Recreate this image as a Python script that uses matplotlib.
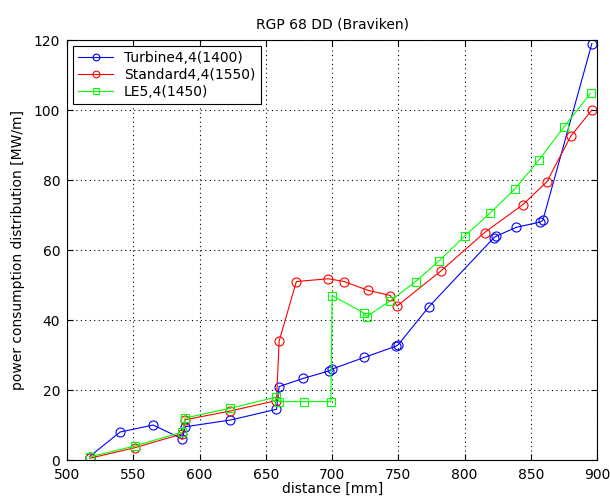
import numpy as np
import matplotlib.pyplot as plt

# data
turbine_x = [517, 540, 565, 587, 589, 623, 658, 660, 678, 698, 700, 724, 748, 750, 773, 822, 824, 839, 857, 859, 896]
turbine_y = [1, 8, 10, 6, 9.5, 11.4, 14.5, 21, 23.3, 25.5, 26, 29.3, 32.5, 33, 43.8, 63.5, 64, 66.5, 68, 68.5, 119]

standard_x = [517, 551, 587, 589, 623, 658, 660, 673, 697, 709, 727, 744, 749, 782, 815, 844, 862, 880, 896]
standard_y = [0.5, 3.5, 7.5, 11.5, 14, 17, 34, 51, 51.8, 51, 48.5, 47, 44, 54, 65, 73, 79.5, 92.5, 100]

le_x = [517, 551, 587, 589, 623, 658, 660, 679, 699, 700, 724, 726, 744, 763, 781, 800, 819, 838, 856, 875, 895]
le_y = [0.9, 4, 8, 12, 14.8, 18, 16.7, 16.7, 16.7, 47, 42, 41, 45.5, 51, 57, 64, 70.5, 77.5, 85.7, 95.2, 104.8]

labels = ['Turbine4,4(1400)', 'Standard4,4(1550)', 'LE5,4(1450)']

fig = plt.figure(figsize=(6.1, 4.97), dpi=100)
ax = fig.add_axes([0.11, 0.0744, 0.869, 0.845])

ax.plot(turbine_x, turbine_y, '-o', color='#0000ff', lw=0.8, ms=6.5, mfc='none', mew=0.8, label=labels[0])
ax.plot(standard_x, standard_y, '-o', color='#ff0000', lw=0.8, ms=6.5, mfc='none', mew=0.8, label=labels[1])
ax.plot(le_x, le_y, '-s', color='#00ff00', lw=0.8, ms=5.5, mfc='none', mew=0.8, label=labels[2])

ax.set_xlim(500, 900)
ax.set_ylim(0, 120)
ax.set_xticks(np.arange(500, 901, 50))
ax.set_yticks(np.arange(0, 121, 20))
ax.grid(True, linestyle=(0, (1, 3)), color='black', lw=0.8)
ax.tick_params(direction='in', top=True, right=True, labelsize=10, length=4)
ax.tick_params(axis='y', pad=5)
ax.tick_params(axis='x', pad=5.5)
for s in ax.spines.values():
    s.set_linewidth(0.8)

ax.set_title('RGP 68 DD (Braviken)', fontsize=10, pad=8)
ax.set_xlabel('distance [mm]', fontsize=10, labelpad=0)
ax.set_ylabel('power consumption distribution [MW/m]', fontsize=10, labelpad=6)

leg = ax.legend(loc='upper left', fontsize=10, fancybox=False, edgecolor='black',
                framealpha=1, markerscale=0.75, handlelength=2.5, borderaxespad=0.4,
                labelspacing=0.2)
leg.get_frame().set_linewidth(0.8)

fig.savefig('out.png', dpi=100)
